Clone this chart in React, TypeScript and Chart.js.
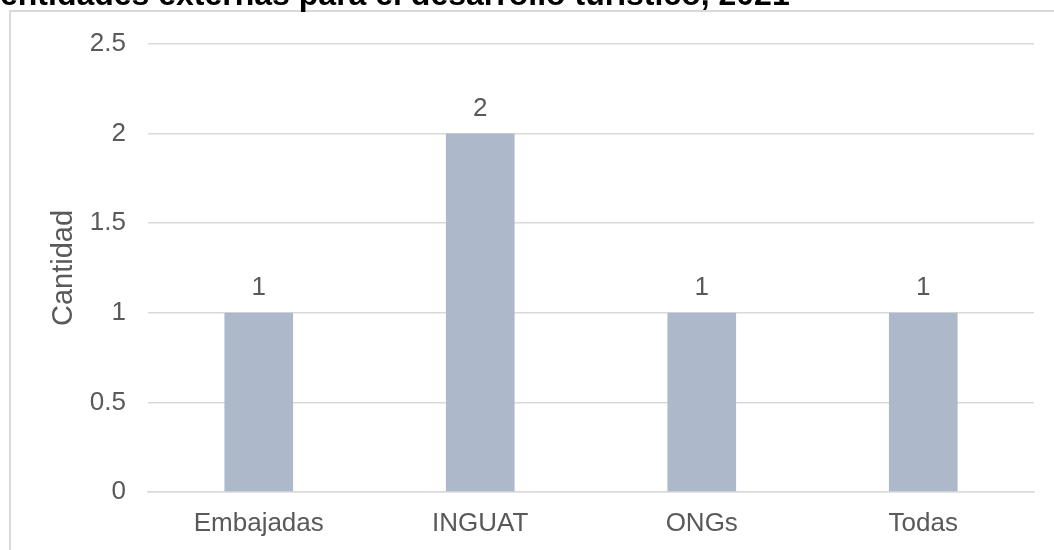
import React, { useEffect, useRef } from "react";
import { Chart, registerables } from "chart.js";

Chart.register(...registerables);

const categories = ["Embajadas", "INGUAT", "ONGs", "Todas"];
const values = [1, 2, 1, 1];
const yTicks = [0, 0.5, 1, 1.5, 2, 2.5];
const titleText = "entidades externas para el desarrollo turístico, 2021";
const yAxisTitle = "Cantidad";

const FONT = "'Liberation Sans', Arial, sans-serif";
const TEXT = "#595959";

const framePlugin = {
  id: "framePlugin",
  beforeDraw(chart: any) {
    const ctx = chart.ctx;
    ctx.save();
    ctx.fillStyle = "#ffffff";
    ctx.fillRect(0, 0, chart.width, chart.height);
    ctx.strokeStyle = "#d9d9d9";
    ctx.lineWidth = 2;
    ctx.beginPath();
    ctx.moveTo(10, chart.height);
    ctx.lineTo(10, 11);
    ctx.lineTo(chart.width, 11);
    ctx.stroke();
    ctx.fillStyle = "#000000";
    ctx.font = `bold 32px ${FONT}`;
    ctx.textBaseline = "alphabetic";
    ctx.textAlign = "left";
    ctx.fillText(titleText, 0, 5);
    ctx.restore();
  },
};

const valueLabelPlugin = {
  id: "valueLabelPlugin",
  afterDatasetsDraw(chart: any) {
    const ctx = chart.ctx;
    const meta = chart.getDatasetMeta(0);
    ctx.save();
    ctx.fillStyle = TEXT;
    ctx.font = `26px ${FONT}`;
    ctx.textAlign = "center";
    ctx.textBaseline = "alphabetic";
    meta.data.forEach((bar: any, i: number) => {
      ctx.fillText(String(chart.data.datasets[0].data[i]), bar.x, bar.y - 18);
    });
    ctx.restore();
  },
};

export default function App() {
  const ref = useRef<HTMLCanvasElement | null>(null);
  useEffect(() => {
    document.body.style.margin = "0";
    const canvas = ref.current!;
    const chart = new Chart(canvas, {
      type: "bar",
      data: {
        labels: categories,
        datasets: [
          {
            data: values,
            backgroundColor: "#adb9ca",
            borderWidth: 0,
            barPercentage: 0.31,
            categoryPercentage: 1,
          },
        ],
      },
      options: {
        animation: false,
        responsive: false,
        events: [],
        layout: { padding: { left: 0, right: 20, top: 44, bottom: 0 } },
        plugins: {
          legend: { display: false },
          tooltip: { enabled: false },
          title: { display: false },
        },
        scales: {
          x: {
            grid: { display: false, drawTicks: false },
            border: { display: true, color: "#d9d9d9", width: 1.5 },
            ticks: {
              color: TEXT,
              font: { family: FONT, size: 26 },
              padding: 16,
            },
            afterFit(scale: any) {
              scale.height = 58;
            },
          },
          y: {
            min: 0,
            max: 2.5,
            afterBuildTicks(scale: any) {
              scale.ticks = yTicks.map((v) => ({ value: v }));
            },
            grid: { color: "#d9d9d9", lineWidth: 1.5, drawTicks: false },
            border: { display: false },
            ticks: {
              color: TEXT,
              font: { family: FONT, size: 26 },
              padding: 22,
              callback: (v: any) => String(v),
            },
            title: {
              display: true,
              text: yAxisTitle,
              color: TEXT,
              font: { family: FONT, size: 29 },
              padding: { top: 47, bottom: 0 },
            },
            afterFit(scale: any) {
              scale.width = 148;
            },
          },
        },
      },
      plugins: [framePlugin, valueLabelPlugin],
    });
    return () => chart.destroy();
  }, []);
  return <canvas ref={ref} width={1054} height={550} style={{ display: "block" }} />;
}
